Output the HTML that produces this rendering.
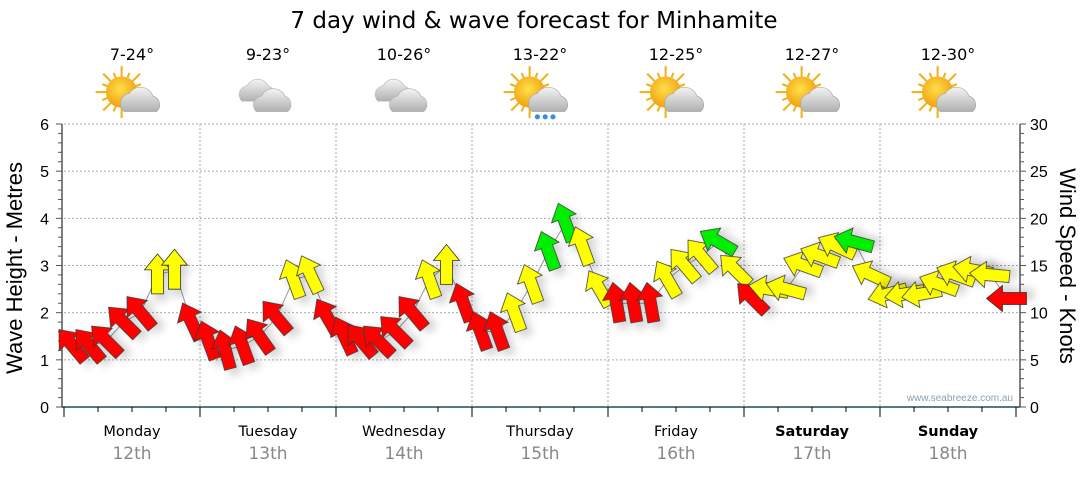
<!DOCTYPE html>
<html><head><meta charset="utf-8"><style>
body{margin:0;background:#fff;width:1080px;height:475px;overflow:hidden;font-family:"Liberation Sans","DejaVu Sans",sans-serif}
</style></head><body>
<svg id="chart" width="1080" height="475" xmlns="http://www.w3.org/2000/svg" font-family="Liberation Sans, DejaVu Sans, sans-serif">
<defs>
<filter id="sh" x="-50%" y="-50%" width="200%" height="200%"><feDropShadow dx="4" dy="7" stdDeviation="4" flood-color="#000" flood-opacity="0.16"/></filter>
<radialGradient id="sun" cx="0.45" cy="0.4" r="0.6"><stop offset="0" stop-color="#ffe04a"/><stop offset="1" stop-color="#f0a010"/></radialGradient>
<linearGradient id="cl" x1="0" y1="0" x2="0" y2="1"><stop offset="0" stop-color="#f4f4f4"/><stop offset="1" stop-color="#b0b0b0"/></linearGradient>
</defs>
<text x="534" y="28" font-size="23" text-anchor="middle" fill="#000" font-family="DejaVu Sans, sans-serif">7 day wind &amp; wave forecast for Minhamite</text>
<g id="grid"></g>
<g id="axes"></g>
<g id="icons"></g>
<g id="marks"></g>
<text transform="translate(22,268) rotate(-90)" font-size="22" text-anchor="middle" fill="#000">Wave Height - Metres</text>
<text transform="translate(1060,266) rotate(90)" font-size="22" text-anchor="middle" fill="#000">Wind Speed - Knots</text>
<text x="1013" y="401" font-size="10" text-anchor="end" fill="#8aa0b8">www.seabreeze.com.au</text>
</svg>
<script>
const days = ["Monday","Tuesday","Wednesday","Thursday","Friday","Saturday","Sunday"];
const dates = ["12th","13th","14th","15th","16th","17th","18th"];
const temps = ["7-24°","9-23°","10-26°","13-22°","12-25°","12-27°","12-30°"];
const weather = ["partly","cloudy","cloudy","rain","partly","partly","partly"];
const leftTicks = [0,1,2,3,4,5,6];
const rightTicks = [0,5,10,15,20,25,30];
const times = [];
for (let d=0; d<7; d++) for (let h=0; h<8; h++) times.push(d*24 + 1.5 + h*3);
const speeds = [6.5,6.5,7,9,10,14,14.5,9,
 7,6,6.5,7.5,9.5,13.5,14,9.5,
 7.5,7,7,8,10,13.5,15,11,
 8,8,10,13,16.5,19.5,17,12.5,
 11,11,11,13.5,15,16,17.5,14.5,
 11.5,12.5,12.5,15,16,17,17.5,14,
 12,12,12,13,14,14.5,14,11.5];
const directions = [-40,-40,-45,-45,-40,0,0,-25,
 -20,-15,-20,-35,-40,-20,-25,-30,
 -25,-40,-45,-45,-40,-20,0,-20,
 -20,-20,-20,-20,-20,-20,-20,-30,
 -10,-10,-10,-30,-40,-40,-60,-45,
 -45,-80,-75,-70,-70,-65,-75,-65,
 -105,-100,-100,-70,-70,-80,-85,-90];
const colours = ["R","R","R","R","R","Y","Y","R",
 "R","R","R","R","R","Y","Y","R",
 "R","R","R","R","R","Y","Y","R",
 "R","R","Y","Y","G","G","Y","Y",
 "R","R","R","Y","Y","Y","G","Y",
 "R","Y","Y","Y","Y","Y","G","Y",
 "Y","Y","Y","Y","Y","Y","Y","R"];
const NS="http://www.w3.org/2000/svg";
const X0=64, DAYW=136, Y0=407, YTOP=124;
const xS = t => X0 + t*DAYW/24;
const yM = m => Y0 - m*(Y0-YTOP)/6;
const yK = k => Y0 - k*(Y0-YTOP)/30;
function mk(tag, parent, attrs){const e=document.createElementNS(NS,tag);for(const k in attrs)e.setAttribute(k,attrs[k]);parent.appendChild(e);return e;}
const grid=document.getElementById('grid'), axes=document.getElementById('axes'), icons=document.getElementById('icons'), marks=document.getElementById('marks');
leftTicks.forEach(v=>{ if(v>0){const l=mk('line',grid,{x1:X0,x2:1020,y1:yM(v),y2:yM(v),stroke:'#aaa','stroke-dasharray':'2,2'});

}});
for(let d=1; d<7; d++){const l=mk('line',grid,{x1:xS(d*24),x2:xS(d*24),y1:YTOP,y2:Y0,stroke:'#aaa','stroke-dasharray':'2,2'});

}
mk('line',axes,{x1:X0-2,x2:X0-2,y1:YTOP,y2:Y0,stroke:'#000'});
mk('line',axes,{x1:1020,x2:1020,y1:YTOP,y2:Y0,stroke:'#000'});
mk('line',axes,{x1:X0-2,x2:1020,y1:Y0,y2:Y0,stroke:'#1a4a6a','stroke-width':1.5});
for(let i=0;i<=30;i++){const y=yM(i*0.2);mk('line',axes,{x1:X0-2-(i%5==0?6:4),x2:X0-2,y1:y,y2:y,stroke:'#555'});
 const yr=yK(i);mk('line',axes,{x1:1020,x2:1020+(i%5==0?6:4),y1:yr,y2:yr,stroke:'#555'});}
leftTicks.forEach(v=>{const t=mk('text',axes,{x:49,y:yM(v)+6,'font-size':16,'text-anchor':'end',fill:'#000'});t.textContent=v;

});
rightTicks.forEach(v=>{const t=mk('text',axes,{x:1030,y:yK(v)+6,'font-size':16,fill:'#000'});t.textContent=v;

});
for(let i=0;i<=28;i++){const x=xS(i*6);mk('line',axes,{x1:x,x2:x,y1:Y0,y2:Y0+(i%4==0?10:5),stroke:'#000'});}
days.forEach((d,i)=>{const cx=xS(i*24+12);
 const t=mk('text',axes,{x:cx,y:436,'font-size':14.5,'text-anchor':'middle',fill:'#000','font-weight':i>=5?'bold':'normal','font-family':'DejaVu Sans, sans-serif'});t.textContent=d;
 
 
 const t2=mk('text',axes,{x:cx,y:459,'font-size':17,'text-anchor':'middle',fill:'#888','font-family':'DejaVu Sans, sans-serif'});t2.textContent=dates[i];
 
 
 const t3=mk('text',icons,{x:cx,y:60,'font-size':16,'text-anchor':'middle',fill:'#000','font-family':'DejaVu Sans, sans-serif'});t3.textContent=temps[i];
 
 
 const g=mk('g',icons,{transform:`translate(${cx},96) scale(1.3)`});
 
 
 const w=weather[i];
 if(w!=='cloudy'){for(let a=0;a<16;a++){const r=a*Math.PI/8;mk('line',g,{x1:-8+Math.cos(r)*11,y1:-3+Math.sin(r)*11,x2:-8+Math.cos(r)*(a%2?16:20),y2:-3+Math.sin(r)*(a%2?16:20),stroke:'#f2b21c','stroke-width':1.6});}
  mk('circle',g,{cx:-8,cy:-3,r:12,fill:'url(#sun)'});
  mk('path',g,{d:'M-6 12 a8 8 0 0 1 4-14 a10 10 0 0 1 18 2 a7 7 0 0 1 3 12 z',fill:'url(#cl)',stroke:'#aaa','stroke-width':0.5});
  if(w==='rain'){[-2,4,10].forEach(dx=>mk('circle',g,{cx:dx,cy:16,r:2,fill:'#3a8ee0'}));}
 } else {
  mk('path',g,{d:'M-20 4 a7 7 0 0 1 4-12 a9 9 0 0 1 16 0 a7 7 0 0 1 2 12 z',fill:'url(#cl)',stroke:'#bbb','stroke-width':0.5});
  mk('path',g,{d:'M-9 12 a7 7 0 0 1 4-12 a10 10 0 0 1 18 0 a7 7 0 0 1 2 12 z',fill:'url(#cl)',stroke:'#aaa','stroke-width':0.5});
 }
});
let pd='';times.forEach((t,i)=>{pd+=(i?'L':'M')+xS(t).toFixed(1)+' '+yK(speeds[i]).toFixed(1)+' ';});
const pl=mk('path',marks,{d:pd,fill:'none',stroke:'#999','stroke-width':1});


const fills={R:'#ff0000',Y:'#ffff00',G:'#00ee00'};
const arrowPath='M0 -21 L13 -5 L6 -5 L6 19 L-6 19 L-6 -5 L-13 -5 Z';
times.forEach((t,i)=>{
 const a=mk('path',marks,{d:arrowPath,fill:fills[colours[i]],stroke:'#333','stroke-width':0.8,filter:'url(#sh)',
  transform:`translate(${xS(t).toFixed(1)},${yK(speeds[i]).toFixed(1)}) rotate(${directions[i]})`});
 
 
});
</script>
</body></html>
